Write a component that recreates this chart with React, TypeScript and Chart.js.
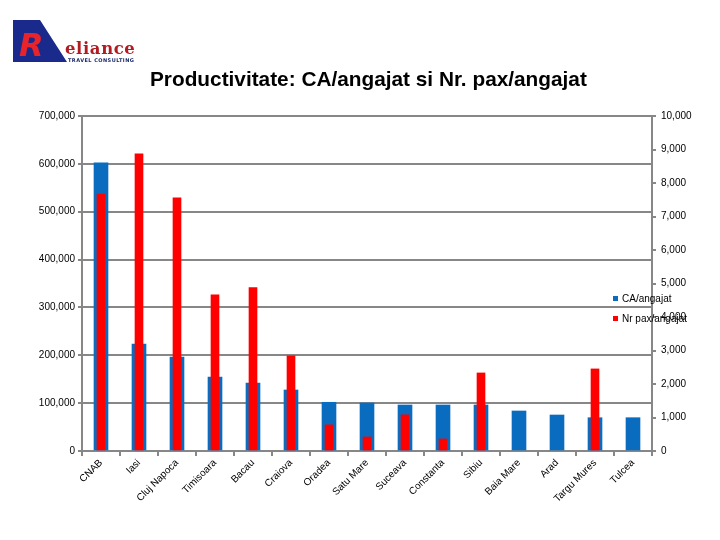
import React, { useEffect, useRef } from "react";
import { Chart, registerables } from "chart.js";

Chart.register(...registerables);

const categories = [
  "CNAB", "Iasi", "Cluj Napoca", "Timisoara", "Bacau", "Craiova", "Oradea",
  "Satu Mare", "Suceava", "Constanta", "Sibiu", "Baia Mare", "Arad", "Targu Mures", "Tulcea",
];
const caPerEmployee = [
  602000, 223600, 196400, 154600, 142000, 127500, 101800, 100300, 96100, 96100, 96100, 83600, 75200, 69600, 69600,
];
const paxPerEmployee = [
  7670, 8870, 7560, 4660, 4880, 2840, 780, 420, 1080, 360, 2330, null, null, 2450, null,
];
const leftTicksMax = 700000;
const rightTicksMax = 10000;
const seriesNames = ["CA/angajat", "Nr pax/angajat"];
const titleText = "Productivitate: CA/angajat si Nr. pax/angajat";

const BLUE = "#0a6cbf";
const RED = "#ff0000";
const GRID = "#878787";
const FONT = "'Liberation Sans', Arial, sans-serif";

export default function App() {
  const ref = useRef<HTMLCanvasElement | null>(null);

  useEffect(() => {
    if (!ref.current) return;
    const chart = new Chart(ref.current, {
      type: "bar",
      data: {
        labels: categories,
        datasets: [
          {
            label: seriesNames[0],
            data: caPerEmployee,
            backgroundColor: BLUE,
            barThickness: 14,
            grouped: false,
            order: 2,
            yAxisID: "y",
          } as any,
          {
            label: seriesNames[1],
            data: paxPerEmployee,
            backgroundColor: RED,
            barThickness: 8,
            grouped: false,
            order: 1,
            yAxisID: "y1",
          } as any,
        ],
      },
      options: {
        animation: false,
        responsive: true,
        maintainAspectRatio: false,
        layout: { padding: { top: 116, left: 0, right: 0, bottom: 0 } },
        plugins: { legend: { display: false }, title: { display: false }, tooltip: { enabled: false } },
        scales: {
          x: {
            offset: true,
            grid: { drawOnChartArea: false, offset: true, tickLength: 5, color: GRID, lineWidth: 2 },
            border: { color: GRID, width: 2 },
            ticks: {
              autoSkip: false,
              minRotation: 45,
              maxRotation: 45,
              color: "#000",
              padding: 1,
              font: { family: FONT, size: 10 },
            },
            afterFit: (s: any) => { s.height = 89; },
          },
          y: {
            position: "left",
            min: 0,
            max: leftTicksMax,
            ticks: {
              stepSize: 100000,
              color: "#000",
              padding: 3,
              font: { family: FONT, size: 10 },
              callback: (v: any) => Number(v).toLocaleString("en-US"),
            },
            grid: { color: GRID, lineWidth: 2, tickLength: 4 },
            border: { color: GRID, width: 2 },
            afterFit: (s: any) => { s.width = 82; },
          },
          y1: {
            position: "right",
            min: 0,
            max: rightTicksMax,
            ticks: {
              stepSize: 1000,
              color: "#000",
              padding: 5,
              font: { family: FONT, size: 10 },
              callback: (v: any) => Number(v).toLocaleString("en-US"),
            },
            grid: { drawOnChartArea: false, color: GRID, lineWidth: 2, tickLength: 4 },
            border: { color: GRID, width: 2 },
            afterFit: (s: any) => { s.width = 68; },
          },
        },
      },
    });
    return () => chart.destroy();
  }, []);

  return (
    <div style={{ position: "absolute", left: 0, top: 0, width: 720, height: 540, background: "#fff", overflow: "hidden" }}>
      <canvas ref={ref} style={{ position: "absolute", left: 0, top: 0 }} />
      <div style={{ position: "absolute", left: 0, top: 0, width: 720, height: 540 }}>
        <svg width={140} height={72} style={{ position: "absolute", left: 0, top: 0 }}>
          <polygon points="13,20 40,20 67,62 13,62" fill="#1a2a8c" />
          <text x={19} y={56} fontFamily="'DejaVu Sans', sans-serif" fontStyle="italic" fontWeight="bold"
            fontSize={32} fill="#e8232a">R</text>
          <text x={65} y={54} fontFamily="'DejaVu Serif', serif" fontWeight="bold" fontSize={16.5}
            letterSpacing={0.6} fill="#b01c22">eliance</text>
          <text x={68} y={62} fontFamily="'DejaVu Sans', sans-serif" fontWeight="bold" fontSize={5}
            letterSpacing={0.45} fill="#1a2a6c">TRAVEL CONSULTING</text>
        </svg>
        <div style={{
          position: "absolute", left: 150, top: 67, whiteSpace: "nowrap",
          fontFamily: FONT, fontWeight: "bold", fontSize: 20.8, color: "#000",
        }}>{titleText}</div>
        <div style={{ position: "absolute", left: 613, top: 290, fontFamily: FONT, fontSize: 10, color: "#000", whiteSpace: "nowrap" }}>
          <div style={{ display: "flex", alignItems: "center", height: 16 }}>
            <span style={{ display: "inline-block", width: 5, height: 5, background: BLUE, marginRight: 4 }} />
            {seriesNames[0]}
          </div>
          <div style={{ display: "flex", alignItems: "center", height: 16, marginTop: 4 }}>
            <span style={{ display: "inline-block", width: 5, height: 5, background: RED, marginRight: 4 }} />
            {seriesNames[1]}
          </div>
        </div>
      </div>
    </div>
  );
}
